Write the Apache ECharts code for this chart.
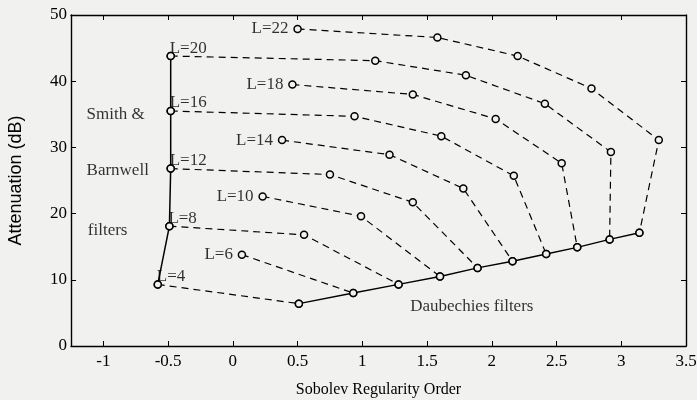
<!DOCTYPE html>
<html>
<head>
<meta charset="utf-8">
<script src="https://cdn.jsdelivr.net/npm/echarts@6/dist/echarts.min.js"></script>
<style>
  html, body { margin: 0; padding: 0; background: #f1f1f0; }
  #chart { width: 697px; height: 400px; }
</style>
</head>
<body>
<div id="chart"></div>
<script>
// Smith & Barnwell filters, L = 4 .. 20 : [regularity, attenuation]
var smithBarnwell = [[-0.58, 9.3], [-0.49, 18.1], [-0.48, 26.8], [-0.48, 35.5], [-0.48, 43.8]];
// Daubechies filters, L = 4 .. 22
var daubechies = [[0.51, 6.4], [0.93, 8.0], [1.28, 9.3], [1.60, 10.5], [1.89, 11.8],
                  [2.16, 12.8], [2.42, 13.9], [2.66, 14.9], [2.91, 16.1], [3.14, 17.1]];
// dashed trade-off curves for each length L
var chainNames = ['L=4', 'L=6', 'L=8', 'L=10', 'L=12', 'L=14', 'L=16', 'L=18', 'L=20', 'L=22'];
var chains = [
  [[-0.58, 9.3], [0.51, 6.4]],
  [[0.07, 13.8], [0.93, 8.0]],
  [[-0.49, 18.1], [0.55, 16.8], [1.28, 9.3]],
  [[0.23, 22.6], [0.99, 19.6], [1.60, 10.5]],
  [[-0.48, 26.8], [0.75, 25.9], [1.39, 21.7], [1.89, 11.8]],
  [[0.38, 31.1], [1.21, 28.9], [1.78, 23.8], [2.16, 12.8]],
  [[-0.48, 35.5], [0.94, 34.7], [1.61, 31.7], [2.17, 25.7], [2.42, 13.9]],
  [[0.46, 39.5], [1.39, 38.0], [2.03, 34.3], [2.54, 27.6], [2.66, 14.9]],
  [[-0.48, 43.8], [1.10, 43.1], [1.80, 40.9], [2.41, 36.6], [2.92, 29.3], [2.91, 16.1]],
  [[0.50, 47.9], [1.58, 46.6], [2.20, 43.8], [2.77, 38.9], [3.29, 31.1], [3.14, 17.1]]
];
// which side of the first point the L label sits
var labelSide = ['topRight', 'left', 'topRight', 'left', 'topRight', 'left', 'topRight', 'left', 'topRight', 'left'];

var xTicks = [-1, -0.5, 0, 0.5, 1, 1.5, 2, 2.5, 3, 3.5];
var notes = [
  { text: 'Smith &', at: [-1.13, 35.0] },
  { text: 'Barnwell', at: [-1.13, 26.5] },
  { text: 'filters', at: [-1.12, 17.5] },
  { text: 'Daubechies filters', at: [1.37, 6.0] }
];

var serif = '"Liberation Serif", "DejaVu Serif", serif';
var ink = '#000';
var paper = '#f1f1f0';

var series = [];
var circle = {
  symbol: 'circle', symbolSize: 7,
  itemStyle: { color: paper, borderColor: ink, borderWidth: 1.5 }
};

chains.forEach(function (pts, i) {
  series.push(Object.assign({
    name: chainNames[i], type: 'line', data: pts, z: 2,
    lineStyle: { color: ink, width: 1.2, type: [7, 5] }
  }, circle));
});
series.push(Object.assign({
  name: 'Smith & Barnwell', type: 'line', data: smithBarnwell, z: 3,
  lineStyle: { color: ink, width: 1.5 }
}, circle));
series.push(Object.assign({
  name: 'Daubechies', type: 'line', data: daubechies, z: 3,
  lineStyle: { color: ink, width: 1.4 }
}, circle));

// L=.. labels attached to the first point of each curve
series.push({
  type: 'scatter', symbolSize: 0, z: 5, silent: true,
  data: chains.map(function (pts, i) {
    return {
      value: pts[0],
      label: labelSide[i] === 'left'
        ? { position: 'left', distance: 9, formatter: chainNames[i] }
        : { position: 'right', offset: [-1, -8], distance: 0, formatter: chainNames[i] }
    };
  }),
  label: { show: true, color: ink, fontFamily: serif, fontSize: 17 }
});
// text notes
series.push({
  type: 'scatter', symbolSize: 0, z: 5, silent: true,
  data: notes.map(function (n) {
    return { value: n.at, label: { formatter: n.text } };
  }),
  label: { show: true, position: 'right', distance: 0, color: ink, fontFamily: serif, fontSize: 17 }
});

var axisLine = { show: true, onZero: false, lineStyle: { color: ink, width: 1.4 } };

var chart = echarts.init(document.getElementById('chart'));
var option = {
  backgroundColor: paper,
  animation: false,
  grid: { left: 71, right: 11, top: 15, bottom: 54, outerBoundsMode: 'none', containLabel: false },
  xAxis: [{
    type: 'value', min: -1.25, max: 3.5, position: 'bottom',
    name: 'Sobolev Regularity Order', nameLocation: 'middle', nameGap: 36,
    nameTextStyle: { color: ink, fontFamily: serif, fontSize: 16 },
    axisLine: axisLine,
    axisTick: { show: true, inside: true, length: 5, customValues: xTicks, lineStyle: { color: ink } },
    axisLabel: { customValues: xTicks, color: ink, fontFamily: serif, fontSize: 17, margin: 7 },
    splitLine: { show: false }
  }, {
    type: 'value', min: -1.25, max: 3.5, position: 'top',
    axisLine: axisLine,
    axisTick: { show: true, inside: true, length: 5, customValues: xTicks, lineStyle: { color: ink } },
    axisLabel: { show: false },
    splitLine: { show: false }
  }],
  yAxis: [{
    type: 'value', min: 0, max: 50, interval: 10, position: 'left',
    name: 'Attenuation (dB)', nameLocation: 'middle', nameGap: 46,
    nameTextStyle: { color: ink, fontFamily: '"Liberation Sans", Arial, sans-serif', fontSize: 18 },
    axisLine: axisLine,
    axisTick: { show: true, inside: true, length: 5, lineStyle: { color: ink } },
    axisLabel: { color: ink, fontFamily: serif, fontSize: 17, margin: 4 },
    splitLine: { show: false }
  }, {
    type: 'value', min: 0, max: 50, interval: 10, position: 'right',
    axisLine: axisLine,
    axisTick: { show: true, inside: true, length: 5, lineStyle: { color: ink } },
    axisLabel: { show: false },
    splitLine: { show: false }
  }],
  series: series
};
chart.setOption(option);
</script>
</body>
</html>
